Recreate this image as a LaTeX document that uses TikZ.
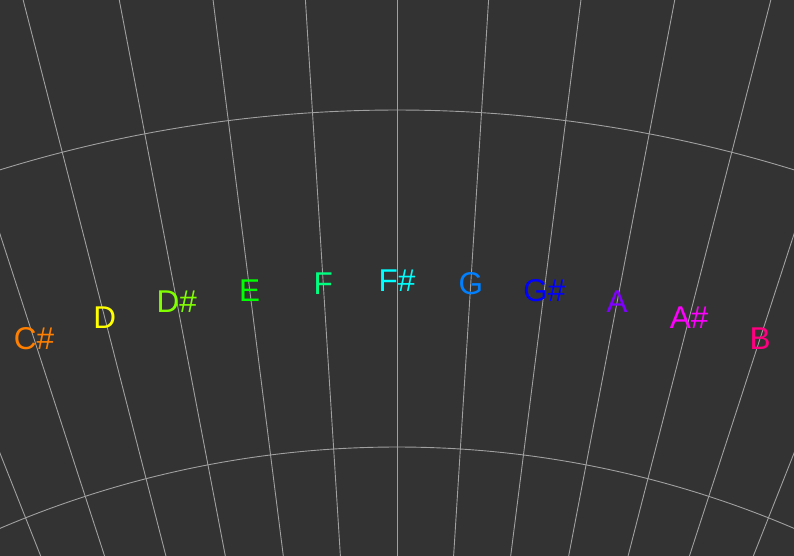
\documentclass[tikz,border=0pt]{standalone}
\usepackage{fontspec}
\setmainfont{Liberation Sans}
\usetikzlibrary{calc}
\definecolor{bg}{HTML}{333333}
\definecolor{gridc}{HTML}{A0A0A0}
\definecolor{cCs}{HTML}{FF8000}
\definecolor{cD}{HTML}{FFFF00}
\definecolor{cDs}{HTML}{80FF00}
\definecolor{cE}{HTML}{00FF00}
\definecolor{cF}{HTML}{00FF80}
\definecolor{cFs}{HTML}{00FFFF}
\definecolor{cG}{HTML}{0080FF}
\definecolor{cGs}{HTML}{0000FF}
\definecolor{cA}{HTML}{8000FF}
\definecolor{cAs}{HTML}{FF00FF}
\definecolor{cB}{HTML}{FF0080}
\begin{document}
\begin{tikzpicture}[x=1pt,y=1pt,
  gridline/.style={draw=gridc,line width=0.9pt},
  note/.style={inner sep=0pt,anchor=center,font=\fontsize{31.5}{34}\selectfont}]
\useasboundingbox (0,0) rectangle (794,556);
\fill[bg] (0,0) rectangle (794,556);
\begin{scope}
\clip (0,0) rectangle (794,556);
\coordinate (ctr) at (397,-900);
\foreach \k in {-8,...,8} {
  \draw[gridline] (ctr) -- +({90+\k*3.6}:2300);
}
\draw[gridline] (ctr) ++(60:1346) arc[start angle=60,end angle=120,radius=1346];
\draw[gridline] (ctr) ++(60:1009) arc[start angle=60,end angle=120,radius=1009];
\end{scope}
\foreach \k/\t/\c/\n in {-5/C\#/cCs/ncs,-4/D/cD/nd,-3/D\#/cDs/nds,-2/E/cE/ne,-1/F/cF/nf,0/F\#/cFs/nfs,1/G/cG/ng,2/G\#/cGs/ngs,3/A/cA/na,4/A\#/cAs/nas,5/B/cB/nb} {
  \node[note,text=\c] (\n) at ($(397,-900)+({90-\k*3.6}:1175)$) {\t};
}
\end{tikzpicture}
\end{document}
